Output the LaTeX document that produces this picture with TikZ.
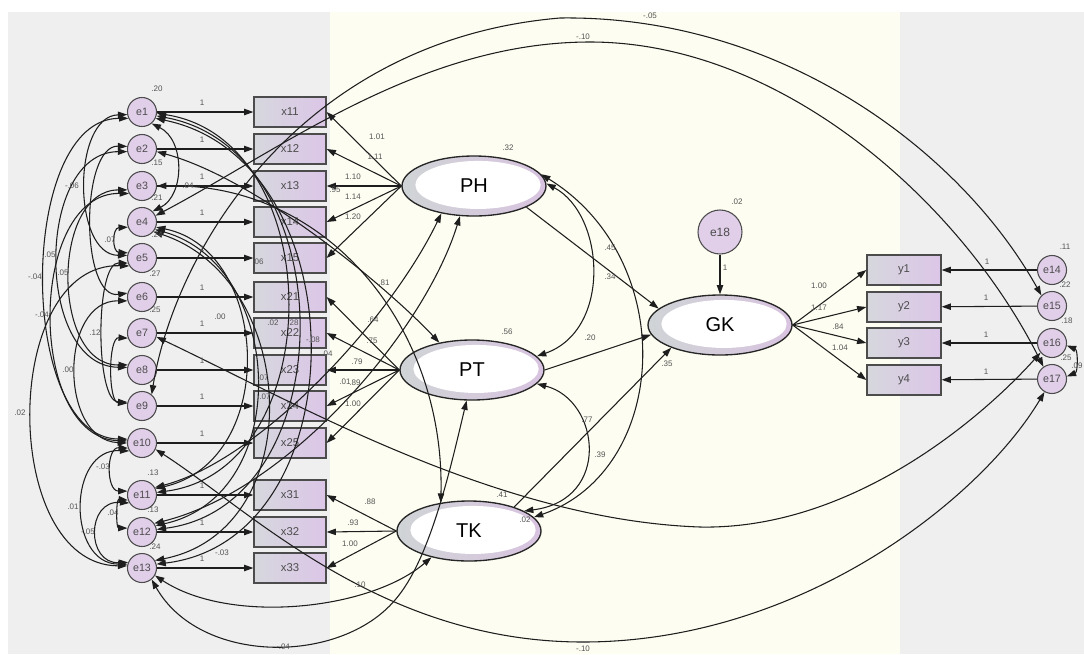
\documentclass[tikz,border=0pt]{standalone}
\usepackage{fontspec}
\setmainfont{Liberation Sans}
\usetikzlibrary{shapes.geometric,arrows.meta}
\definecolor{bggrey}{HTML}{EFEFEF}
\definecolor{bgyel}{HTML}{FDFDF1}
\definecolor{errfill}{HTML}{E1CFEA}
\definecolor{boxl}{HTML}{D6D7DD}
\definecolor{boxr}{HTML}{DCC6E8}
\definecolor{latl}{HTML}{D0D4D6}
\definecolor{latr}{HTML}{D8C3E0}
\definecolor{ln}{HTML}{1E1E1E}
\definecolor{labc}{HTML}{555555}
\begin{document}
\begin{tikzpicture}[x=0.75pt,y=-0.75pt,
  >={Triangle[length=7pt,width=4.8pt]},
  arr/.style={draw=ln,line width=0.8pt,->},
  cov/.style={draw=ln,line width=0.8pt,<->},
  err/.style={circle,draw=black!70,line width=0.8pt,fill=errfill,minimum size=21.75pt,inner sep=0pt,
    font=\fontsize{8}{8}\selectfont,text=black!70},
  bigerr/.style={err,minimum size=33pt,font=\fontsize{9}{9}\selectfont},
  obs/.style={rectangle,draw=black!70,line width=0.9pt,left color=boxl,right color=boxr,
    minimum width=54pt,minimum height=22.5pt,inner sep=0pt,font=\fontsize{8.5}{8.5}\selectfont,text=black!70},
  lat/.style={ellipse,draw=black!85,line width=1pt,left color=latl,right color=latr,
    minimum width=108pt,minimum height=45pt,inner sep=0pt,font=\fontsize{15}{15}\selectfont,
    path picture={\fill[white] ([xshift=3pt,yshift=0.8pt]path picture bounding box.center)
      ellipse [x radius=47pt,y radius=18pt];}},
  lab/.style={font=\fontsize{6}{6}\selectfont,text=labc,inner sep=0.5pt}
]
\useasboundingbox (0,0) rectangle (1084,654);
\fill[white] (0,0) rectangle (1084,654);
\fill[bggrey] (8,12) rectangle (330,654);
\fill[bgyel] (330,12) rectangle (900,654);
\fill[bggrey] (900,12) rectangle (1084,654);

% ---------- nodes ----------
\node[err] (e1) at (142,112) {e1};
\node[err] (e2) at (142,149) {e2};
\node[err] (e3) at (142,186) {e3};
\node[err] (e4) at (142,222) {e4};
\node[err] (e5) at (142,258) {e5};
\node[err] (e6) at (142,297) {e6};
\node[err] (e7) at (142,333) {e7};
\node[err] (e8) at (142,370) {e8};
\node[err] (e9) at (142,406) {e9};
\node[err] (e10) at (142,443) {e10};
\node[err] (e11) at (142,495) {e11};
\node[err] (e12) at (142,532) {e12};
\node[err] (e13) at (142,568) {e13};

\node[obs] (x11) at (290,112) {x11};
\node[obs] (x12) at (290,149) {x12};
\node[obs] (x13) at (290,186) {x13};
\node[obs] (x14) at (290,222) {x14};
\node[obs] (x15) at (290,258) {x15};
\node[obs] (x21) at (290,297) {x21};
\node[obs] (x22) at (290,333) {x22};
\node[obs] (x23) at (290,370) {x23};
\node[obs] (x24) at (290,406) {x24};
\node[obs] (x25) at (290,443) {x25};
\node[obs] (x31) at (290,495) {x31};
\node[obs] (x32) at (290,532) {x32};
\node[obs] (x33) at (290,568) {x33};

\node[lat] (PH) at (474,186) {PH};
\node[lat] (PT) at (472,370) {PT};
\node[lat] (TK) at (469,531) {TK};
\node[lat] (GK) at (720,325) {GK};
\node[bigerr] (e18) at (720,232) {e18};

\node[obs,minimum width=55.5pt] (y1) at (904,270) {y1};
\node[obs,minimum width=55.5pt] (y2) at (904,307) {y2};
\node[obs,minimum width=55.5pt] (y3) at (904,343) {y3};
\node[obs,minimum width=55.5pt] (y4) at (904,380) {y4};
\node[err] (e14) at (1052,270) {e14};
\node[err] (e15) at (1052,306) {e15};
\node[err] (e16) at (1052,343) {e16};
\node[err] (e17) at (1052,379) {e17};

% ---------- error -> indicator ----------
\foreach \i/\j in {1/11,2/12,3/13,4/14,5/15,6/21,7/22,8/23,9/24,10/25,11/31,12/32,13/33}
  \draw[arr] (e\i) -- (x\j);
\draw[arr] (e14) -- (y1);
\draw[arr] (e15) -- (y2);
\draw[arr] (e16) -- (y3);
\draw[arr] (e17) -- (y4);
\draw[arr] (e18) -- (GK);

% ---------- loadings ----------
\foreach \j in {11,12,13,14,15} \draw[arr] (PH.west) -- (x\j.east);
\foreach \j in {21,22,23,24,25} \draw[arr] (PT.west) -- (x\j.east);
\foreach \j in {31,32,33} \draw[arr] (TK.west) -- (x\j.east);
\foreach \j in {1,2,3,4} \draw[arr] (GK.east) -- (y\j.west);

% ---------- structural ----------
\draw[arr] (PH.-22) -- (GK.165);
\draw[arr] (PT.east) -- (GK.188);
\draw[arr] (TK.28) -- (GK.205);
\draw[cov] (PH.2) .. controls (605,215) and (612,330) .. (PT.12);
\draw[cov] (PH.10) .. controls (680,260) and (670,470) .. (TK.12);
\draw[cov] (PT.-12) .. controls (600,400) and (612,500) .. (TK.20);

% ---------- left-side error covariances ----------
\draw[cov] (e1.190) .. controls (72,116) and (72,255) .. (e5.170);
\draw[cov] (e4.200) .. controls (112,228) and (112,252) .. (e5.160);
\draw[cov] (e2.190) .. controls (35,152) and (35,366) .. (e8.170);
\draw[cov] (e3.195) .. controls (51,190) and (51,366) .. (e8.160);
\draw[cov] (e1.205) .. controls (17,118) and (17,438) .. (e10.165);
\draw[cov] (e3.210) .. controls (27,192) and (27,438) .. (e10.172);
\draw[cov] (e5.200) .. controls (95,262) and (95,402) .. (e9.165);
\draw[cov] (e6.195) .. controls (59,300) and (59,440) .. (e10.180);
\draw[cov] (e5.212) .. controls (0,262) and (0,565) .. (e13.172);
\draw[cov] (e10.200) .. controls (106,447) and (106,491) .. (e11.165);
\draw[cov] (e10.212) .. controls (67,448) and (67,564) .. (e13.165);
\draw[cov] (e11.200) .. controls (116,499) and (116,528) .. (e12.165);
\draw[cov] (e11.212) .. controls (86,500) and (86,564) .. (e13.158);
\draw[cov] (e2.170) .. controls (80,145) and (80,300) .. (e6.165);
\draw[cov] (e7.200) .. controls (108,337) and (108,402) .. (e9.170);

% ---------- right-side error covariances ----------
\draw[cov] (e1.-50) .. controls (185,140) and (185,195) .. (e4.45);
\draw[cov] (e1.-5) .. controls (330,140) and (330,470) .. (e11.10);
\draw[cov] (e1.-15) .. controls (345,150) and (345,505) .. (e12.10);
\draw[cov] (e1.-25) .. controls (360,160) and (360,540) .. (e13.15);
\draw[cov] (e4.-20) .. controls (270,250) and (280,460) .. (e11.25);
\draw[cov] (e4.-30) .. controls (285,265) and (295,495) .. (e12.25);
\draw[cov] (e4.-40) .. controls (300,280) and (310,530) .. (e13.30);

% ---------- error - latent covariances ----------
\draw[cov] (e2.-10) .. controls (260,180) and (390,290) .. (PT.140);
\draw[cov] (e3.east) .. controls (330,182) and (445,330) .. (TK.135);
\draw[cov] (e11.30) .. controls (260,460) and (390,320) .. (PH.-140);
\draw[cov] (e12.35) .. controls (290,490) and (425,330) .. (PH.-115);
\draw[cov] (e13.-30) .. controls (230,625) and (370,610) .. (TK.-145);
\draw[cov] (e13.-50) .. controls (200,665) and (340,665) .. (395,600)
   .. controls (430,560) and (450,470) .. (PT.-100);

% ---------- long covariances to y-errors ----------
\draw[cov] (e9.50) .. controls (175,250) and (300,40) .. (560,18)
   .. controls (780,15) and (960,150) .. (e15.135);
\draw[cov] (e4.25) .. controls (280,150) and (420,42) .. (590,42)
   .. controls (780,42) and (960,200) .. (e17.125);
\draw[cov] (e7.-15) .. controls (300,405) and (500,520) .. (700,527)
   .. controls (850,530) and (980,420) .. (e16.-140);
\draw[cov] (e10.-25) .. controls (250,510) and (380,642) .. (583,642)
   .. controls (800,642) and (980,500) .. (e17.-120);
\draw[cov] (e16.-10) .. controls (1078,350) and (1078,372) .. (e17.10);

% ---------- labels ----------
\node[lab] (v1) at (157,89) {.20};
\node[lab] (v2) at (157,163) {.15};
\node[lab] (v3) at (157,198) {.21};
\node[lab] (v4) at (157,235) {.24};
\node[lab] (v5) at (155,274) {.27};
\node[lab] (v6) at (155,310) {.25};
\node[lab] (v11) at (153,473) {.13};
\node[lab] (v12) at (153,510) {.13};
\node[lab] (v13) at (155,547) {.24};
\node[lab] (v14) at (1065,247) {.11};
\node[lab] (v15) at (1065,285) {.22};
\node[lab] (v16) at (1067,321) {.18};
\node[lab] (v17) at (1066,358) {.25};
\node[lab,anchor=east] (v1617) at (1083.5,366) {.09};
\node[lab] (v18) at (737,202) {.02};
\node[lab] (vPH) at (508,148) {.32};
\node[lab] (vPT) at (507,332) {.56};
\node[lab] (vTK) at (525,520) {.02};

\foreach \y [count=\k] in {103,140,177,213,249,288,324,361,397,434,486,523,559}
  \node[lab] (one\k) at (202,\y) {1};
\node[lab] (oy1) at (987,262) {1};
\node[lab] (oy2) at (986,298) {1};
\node[lab] (oy3) at (986,335) {1};
\node[lab] (oy4) at (986,372) {1};
\node[lab] (o18) at (725,268) {1};

\node[lab] (p11) at (377,137) {1.01};
\node[lab] (p12) at (375,157) {1.11};
\node[lab] (p13) at (353,177) {1.10};
\node[lab] (p14) at (353,197) {1.14};
\node[lab] (p15) at (353,217) {1.20};
\node[lab] (p21) at (373,320) {.64};
\node[lab] (p22) at (372,341) {.75};
\node[lab] (p23) at (357,362) {.79};
\node[lab] (p24) at (355,383) {.89};
\node[lab] (p25) at (353,404) {1.00};
\node[lab] (p31) at (370,502) {.88};
\node[lab] (p32) at (353,523) {.93};
\node[lab] (p33) at (350,544) {1.00};
\node[lab] (g1) at (819,286) {1.00};
\node[lab] (g2) at (819,308) {1.17};
\node[lab] (g3) at (838,327) {.84};
\node[lab] (g4) at (840,348) {1.04};

\node[lab] (s1) at (610,277) {.34};
\node[lab] (s2) at (590,338) {.20};
\node[lab] (s3) at (587,420) {.77};
\node[lab] (c1) at (610,248) {.45};
\node[lab] (c2) at (667,364) {.35};
\node[lab] (c3) at (600,455) {.39};

\node[lab] (a1) at (72,186) {-.06};
\node[lab] (a2) at (110,240) {.07};
\node[lab] (a3) at (50,255) {.05};
\node[lab] (a4) at (63,273) {.05};
\node[lab] (a5) at (35,277) {-.04};
\node[lab] (a6) at (42,315) {-.04};
\node[lab] (a7) at (95,333) {.12};
\node[lab] (a8) at (68,370) {.00};
\node[lab] (a9) at (20,413) {.02};
\node[lab] (a10) at (103,467) {-.03};
\node[lab] (a11) at (73,507) {.01};
\node[lab] (a12) at (113,513) {.04};
\node[lab] (a13) at (88,532) {-.05};

\node[lab] (b1) at (188,186) {.04};
\node[lab] (b2) at (220,317) {.00};
\node[lab] (b3) at (258,262) {.06};
\node[lab] (b4) at (335,190) {.95};
\node[lab] (b5) at (273,323) {.02};
\node[lab] (b6) at (293,323) {.28};
\node[lab] (b7) at (313,340) {-.08};
\node[lab] (b8) at (263,378) {.07};
\node[lab] (b9) at (265,397) {.07};
\node[lab] (b10) at (327,354) {.04};
\node[lab] (b11) at (345,382) {.01};
\node[lab] (b12) at (384,283) {.81};
\node[lab] (b13) at (222,553) {-.03};

\node[lab] (t1) at (650,16) {-.05};
\node[lab] (t2) at (583,37) {-.10};
\node[lab] (t3) at (502,495) {.41};
\node[lab] (t4) at (583,649) {-.10};
\node[lab] (t5) at (283,647) {-.04};
\node[lab] (t6) at (360,585) {.10};
\end{tikzpicture}
\end{document}
